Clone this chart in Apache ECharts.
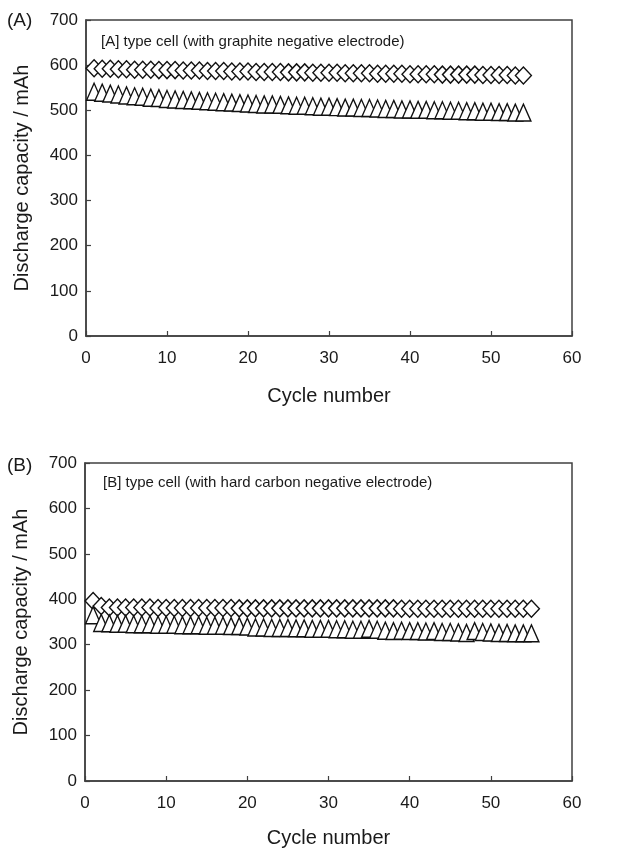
<!DOCTYPE html>
<html>
<head>
<meta charset="utf-8">
<script src="https://cdn.jsdelivr.net/npm/echarts@6/dist/echarts.min.js"></script>
<style>
html,body{margin:0;padding:0;background:#fff;}
#chart{width:626px;height:850px;}
</style>
</head>
<body>
<div id="chart"></div>
<script>
// ---- Data ----
var xTicks = [0, 10, 20, 30, 40, 50, 60];
var yTicks = [0, 100, 200, 300, 400, 500, 600, 700];

var cyclesA = [1,2,3,4,5,6,7,8,9,10,11,12,13,14,15,16,17,18,19,20,21,22,23,24,25,26,27,28,29,30,31,32,33,34,35,36,37,38,39,40,41,42,43,44,45,46,47,48,49,50,51,52,53,54];
var diamondA = [593,592,592,591,591,590,590,590,589,589,
                589,588,588,588,587,587,587,586,586,586,
                585,585,585,585,584,584,584,583,583,583,
                583,582,582,582,582,581,581,581,581,580,
                580,580,580,579,579,579,579,579,578,578,
                578,578,577,577];
var triangleA = [541,539,537,535,533,531,530,528,527,525,
                 524,523,522,521,520,519,518,517,516,515,
                 514,513,513,512,511,510,510,509,508,508,
                 507,506,506,505,505,504,503,503,502,502,
                 501,501,500,500,499,499,498,498,497,497,
                 496,496,495,495];

var cyclesB = [1,2,3,4,5,6,7,8,9,10,11,12,13,14,15,16,17,18,19,20,21,22,23,24,25,26,27,28,29,30,31,32,33,34,35,36,37,38,39,40,41,42,43,44,45,46,47,48,49,50,51,52,53,54,55];
var diamondB = [396,385,382,382,382,382,382,382,381,381,
                381,381,381,381,381,381,381,381,380,380,
                380,380,380,380,380,380,380,380,380,380,
                380,380,380,380,380,380,380,380,379,379,
                379,379,379,379,379,379,379,379,379,379,
                379,379,379,379,379];
var triangleB = [365,348,347,346,346,345,345,345,344,344,
                 344,343,343,343,342,342,342,341,341,340,
                 338,338,337,337,337,336,336,335,335,335,
                 334,334,333,333,335,333,331,330,331,330,
                 330,329,330,328,328,327,326,330,328,327,
                 326,326,325,325,325];

var panelLabels = ['(A)', '(B)'];
var captions = ['[A] type cell (with graphite negative electrode)',
                '[B] type cell (with hard carbon negative electrode)'];
var xName = 'Cycle number';
var yName = 'Discharge capacity / mAh';

// ---- Chart ----
var FONT = '"Liberation Sans", Arial, sans-serif';
var TXT = '#1a1a1a';
var AX = '#404040';

function pairs(xs, ys) {
  var out = [];
  for (var i = 0; i < ys.length; i++) out.push([xs[i], ys[i]]);
  return out;
}

function xAxisCfg(gi, gap) {
  return {
    gridIndex: gi, type: 'value', min: xTicks[0], max: xTicks[xTicks.length - 1],
    interval: xTicks[1] - xTicks[0],
    name: xName, nameLocation: 'middle', nameGap: gap,
    nameTextStyle: {fontFamily: FONT, fontSize: 20, color: TXT},
    axisLine: {show: true, lineStyle: {color: AX, width: 1.5}},
    axisTick: {show: true, inside: true, length: 5, lineStyle: {color: AX, width: 1.2}},
    axisLabel: {fontFamily: FONT, fontSize: 17, color: TXT, margin: 14},
    splitLine: {show: false}
  };
}
function yAxisCfg(gi) {
  return {
    gridIndex: gi, type: 'value', min: yTicks[0], max: yTicks[yTicks.length - 1],
    interval: yTicks[1] - yTicks[0],
    name: yName, nameLocation: 'middle', nameGap: 54, nameRotate: 90,
    nameTextStyle: {fontFamily: FONT, fontSize: 20, color: TXT},
    axisLine: {show: true, lineStyle: {color: AX, width: 1.5}},
    axisTick: {show: true, inside: true, length: 5, lineStyle: {color: AX, width: 1.2}},
    axisLabel: {fontFamily: FONT, fontSize: 17, color: TXT, margin: 8},
    splitLine: {show: false}
  };
}
function markerSeries(name, gi, sym, size, data) {
  return {
    name: name, type: 'scatter', xAxisIndex: gi, yAxisIndex: gi,
    symbol: sym, symbolSize: size, data: data,
    itemStyle: {color: '#ffffff', borderColor: '#111111', borderWidth: 1.4, opacity: 1},
    emphasis: {disabled: true}, silent: true
  };
}

var chart = echarts.init(document.getElementById('chart'), null, {renderer: 'canvas'});
chart.setOption({
  animation: false,
  backgroundColor: '#ffffff',
  grid: [
    {left: 86, top: 20, width: 486, height: 316, show: true, borderColor: AX, borderWidth: 1.5, backgroundColor: 'transparent'},
    {left: 85, top: 463, width: 487, height: 318, show: true, borderColor: AX, borderWidth: 1.5, backgroundColor: 'transparent'}
  ],
  xAxis: [xAxisCfg(0, 50), xAxisCfg(1, 47)],
  yAxis: [yAxisCfg(0), yAxisCfg(1)],
  graphic: [
    {type: 'text', left: 7, top: 11, style: {text: panelLabels[0], font: '19px ' + FONT, fill: TXT}},
    {type: 'text', left: 7, top: 456, style: {text: panelLabels[1], font: '19px ' + FONT, fill: TXT}},
    {type: 'text', left: 101, top: 34, style: {text: captions[0], font: '15px ' + FONT, fill: TXT}},
    {type: 'text', left: 103, top: 475, style: {text: captions[1], font: '15px ' + FONT, fill: TXT}}
  ],
  series: [
    markerSeries('A diamond', 0, 'diamond', [16, 17], pairs(cyclesA, diamondA)),
    markerSeries('A triangle', 0, 'triangle', [15, 17], pairs(cyclesA, triangleA)),
    markerSeries('B diamond', 1, 'diamond', [16, 17], pairs(cyclesB, diamondB)),
    markerSeries('B triangle', 1, 'triangle', [15, 17], pairs(cyclesB, triangleB))
  ]
});
</script>
</body>
</html>
